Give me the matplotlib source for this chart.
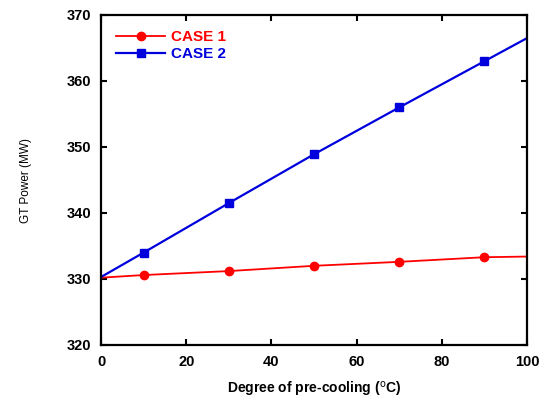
import matplotlib.pyplot as plt

# degree of pre-cooling (C)
x = [0, 10, 30, 50, 70, 90, 100]
case1 = [330.2, 330.6, 331.2, 332.0, 332.6, 333.3, 333.4]
case2 = [330.3, 334.0, 341.5, 348.9, 356.0, 363.0, 366.5]

plt.rcParams['font.family'] = ['Liberation Sans', 'DejaVu Sans']

fig = plt.figure(figsize=(5.49, 4.0), dpi=100)
ax = fig.add_axes([0.184, 0.1375, 0.776, 0.825])

ax.plot(x, case1, '-', color='#ff0000', lw=1.3, marker='o', ms=6,
        markevery=[1, 2, 3, 4, 5], label='CASE 1')
ax.plot(x, case2, '-', color='#0000dd', lw=1.6, marker='s', ms=6,
        markevery=[1, 2, 3, 4, 5], label='CASE 2')

ax.set_xlim(0, 100)
ax.set_ylim(320, 370)
ax.set_xticks(range(0, 101, 20))
ax.set_yticks(range(320, 371, 10))
ax.tick_params(direction='in', top=True, right=True, length=4, width=1.5,
               labelsize=10.5, pad=7)
for lab in ax.get_xticklabels() + ax.get_yticklabels():
    lab.set_fontweight('bold')
for s in ax.spines.values():
    s.set_linewidth(1.6)

ax.set_xlabel('Degree of pre-cooling ($^{\\rm o}$C)', fontsize=10,
              fontweight='bold', labelpad=8)
ax.set_ylabel('GT Power (MW)', fontsize=8.5, labelpad=25)

leg = ax.legend(loc='upper left', frameon=False, fontsize=11,
                handlelength=3.2, borderaxespad=0.6, handletextpad=0.4,
                labelspacing=0.2)
for t, c in zip(leg.get_texts(), ['#ff0000', '#0000dd']):
    t.set_color(c)
    t.set_fontweight('bold')

fig.savefig('out.png', dpi=100)
